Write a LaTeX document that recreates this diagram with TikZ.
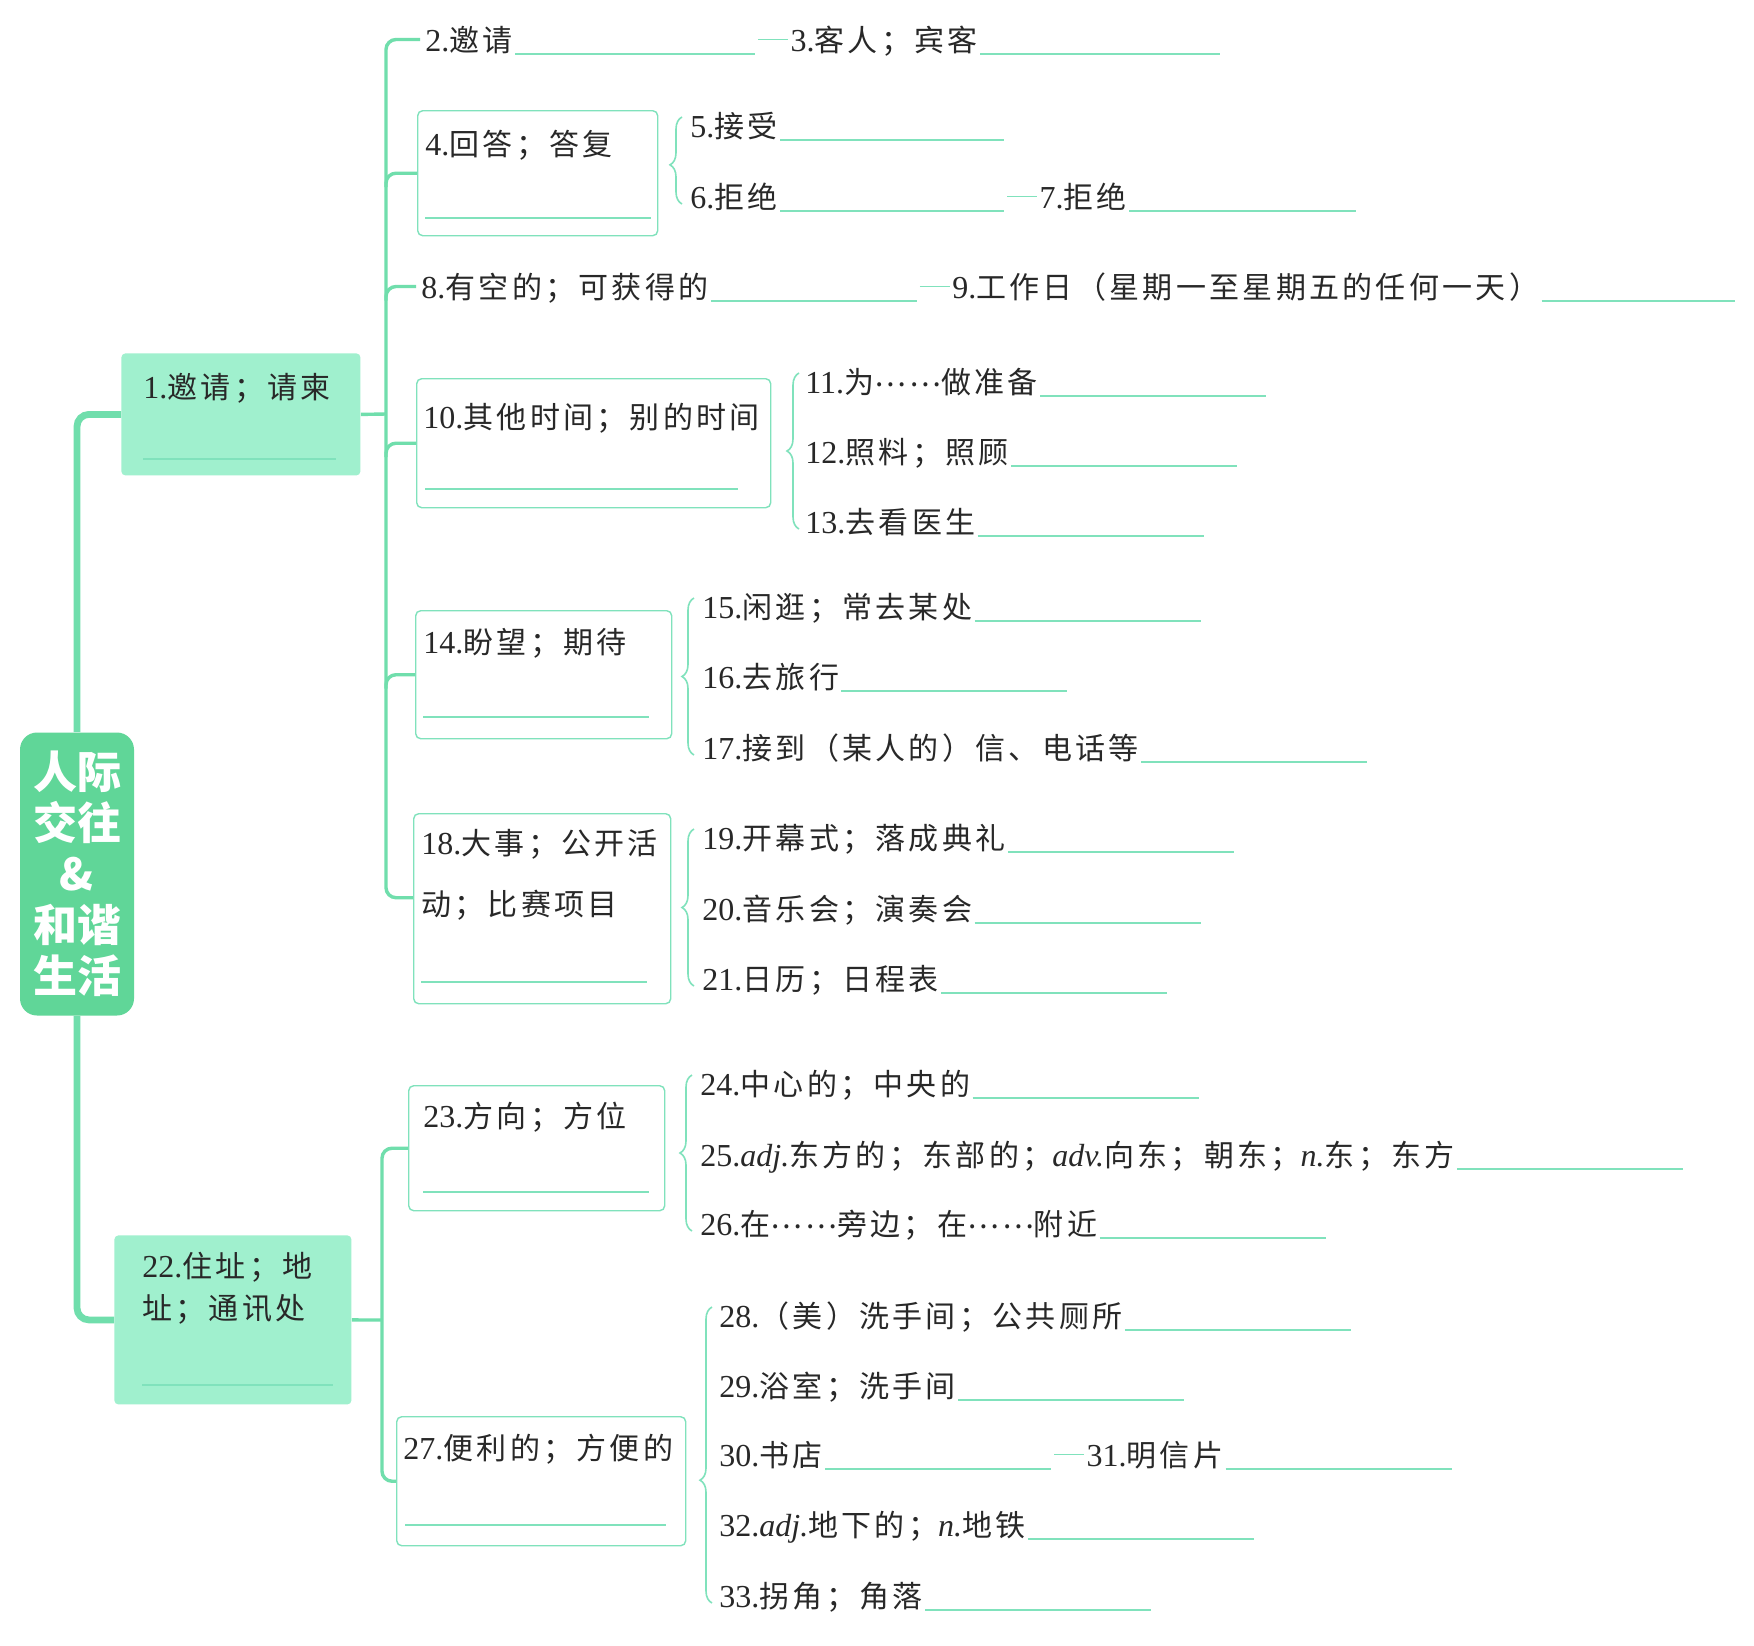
\documentclass[tikz,border=0pt]{standalone}
\usepackage{fontspec}
\setmainfont{Liberation Serif}
\newfontfamily\cjkfont[LetterSpace=11]{Noto Sans CJK SC}
\newfontfamily\titlefont{Noto Sans CJK SC}
\usetikzlibrary{calc,decorations.pathreplacing}
\definecolor{mainG}{RGB}{96,214,152}
\definecolor{lightG}{RGB}{160,240,206}
\definecolor{lineG}{RGB}{112,222,172}
\definecolor{boxG}{RGB}{128,226,188}
\definecolor{txt}{RGB}{40,40,40}
\newcommand\cj[1]{{\fontsize{15}{20}\selectfont\cjkfont #1}}
\newcommand\mdots{\raisebox{3.3pt}{⋯⋯}}
\begin{document}
\begin{tikzpicture}[x=0.5pt,y=-0.5pt,
  every node/.style={text=txt},
  leaf/.style={anchor=base west, inner sep=0pt, text height=12pt, text depth=0.5pt, font=\fontsize{16}{20}\selectfont},
  btext/.style={anchor=base west, inner sep=0pt, text height=12pt, text depth=0.5pt, font=\fontsize{16}{20}\selectfont},
  mtext/.style={anchor=north west, inner sep=0pt, align=left},
  boxnode/.style={draw=boxG, line width=0.7pt, rounded corners=2.5pt, anchor=north west, inner sep=0pt},
  topic/.style={fill=lightG, rounded corners=2pt, anchor=north west, inner sep=0pt},
  title/.style={fill=mainG, rounded corners=8.5pt, text=white, align=center, inner sep=0pt,
    font=\fontsize{22}{25.5}\selectfont\titlefont\bfseries},
  trunk/.style={draw=lineG, line width=3.4pt, rounded corners=6pt},
  bus/.style={draw=lineG, line width=1.7pt, rounded corners=5pt},
  ul/.style={draw=boxG, line width=0.9pt},
  dashc/.style={draw=boxG, line width=0.9pt, shorten <=1.5pt, shorten >=1pt},
  brc/.style={draw=boxG, line width=0.8pt, decorate, decoration={brace, amplitude=6pt, aspect=#1}},
  brc/.default=0.5,
]
\fill[white] (0,0) rectangle (1754,1645);
\useasboundingbox (0,0) rectangle (1754,1645);

% ---------- title ----------
\node[title, minimum width=57pt, minimum height=141.5pt] (main) at (77,874)
  {人际\\交往\\\&\\和谐\\生活};

% ---------- topic 1 ----------
\node[topic, minimum width=119.5pt, minimum height=61pt] (n1) at (121,353) {};
\node[btext] (n1t) at (143,398) {1.\cj{邀请；请柬}};
\draw[ul] (143,459) -- (336,459);

% ---------- topic 22 ----------
\node[topic, minimum width=118.5pt, minimum height=84.5pt] (n22) at (114,1235) {};
\node[mtext, font=\fontsize{16}{21}\selectfont] (n22t) at (142,1252) {22.\cj{住址；地}\\\cj{址；通讯处}};
\draw[ul] (142,1385) -- (333,1385);

% ---------- trunk ----------
\draw[trunk] (main.north) |- (n1.west);
\draw[trunk] (main.south) |- (n22.west);

% ---------- boxes group 1 ----------
\node[boxnode, minimum width=120pt, minimum height=62.5pt] (b4) at (417,110) {};
\node[btext] (b4t) at (425,155) {4.\cj{回答；答复}};
\draw[ul] (425,218) -- (651,218);

\node[boxnode, minimum width=177pt, minimum height=64.5pt] (b10) at (416,378) {};
\node[btext] (b10t) at (423,428) {10.\cj{其他时间；别的时间}};
\draw[ul] (425,489) -- (738,489);

\node[boxnode, minimum width=128pt, minimum height=64pt] (b14) at (415,610) {};
\node[btext] (b14t) at (423,653) {14.\cj{盼望；期待}};
\draw[ul] (423,717) -- (649,717);

\node[boxnode, minimum width=128.5pt, minimum height=95pt] (b18) at (413,813) {};
\node[mtext, font=\fontsize{16}{30.5}\selectfont] (b18t) at (421,829) {18.\cj{大事；公开活}\\\cj{动；比赛项目}};
\draw[ul] (421,982) -- (647,982);

% ---------- boxes group 2 ----------
\node[boxnode, minimum width=128pt, minimum height=62.5pt] (b23) at (408,1085) {};
\node[btext] (b23t) at (423,1127) {23.\cj{方向；方位}};
\draw[ul] (423,1192) -- (649,1192);

\node[boxnode, minimum width=144.5pt, minimum height=64.5pt] (b27) at (396,1416) {};
\node[btext] (b27t) at (403,1459) {27.\cj{便利的；方便的}};
\draw[ul] (405,1525) -- (666,1525);

% ---------- leaves group 1 ----------
\node[leaf] (t2) at (425,51) {2.\cj{邀请}};
\draw[ul] ($(t2.base east)+(2,3)$) -- ++(240,0) coordinate (u2);
\node[leaf] (t3) at ($(u2)+(35,-3)$) {3.\cj{客人；宾客}};
\draw[ul] ($(t3.base east)+(2,3)$) -- ++(240,0);
\draw[dashc] (u2 |- t2.east) -- (t3.west);

\node[leaf] (t5) at (690,137) {5.\cj{接受}};
\draw[ul] ($(t5.base east)+(2,3)$) -- ++(224,0);
\node[leaf] (t6) at (690,208) {6.\cj{拒绝}};
\draw[ul] ($(t6.base east)+(2,3)$) -- ++(224,0) coordinate (u6);
\node[leaf] (t7) at ($(u6)+(35,-3)$) {7.\cj{拒绝}};
\draw[ul] ($(t7.base east)+(2,3)$) -- ++(227,0);
\draw[dashc] (u6 |- t6.east) -- (t7.west);

\node[leaf] (t8) at (421,298) {8.\cj{有空的；可获得的}};
\draw[ul] ($(t8.base east)+(2,3)$) -- ++(206,0) coordinate (u8);
\node[leaf] (t9) at ($(u8)+(35,-3)$) {9.\cj{工作日（星期一至星期五的任何一天）}};
\draw[ul] ($(t9.base east)+(2,3)$) -- ++(193,0);
\draw[dashc] (u8 |- t8.east) -- (t9.west);

\node[leaf] (t11) at (805,393) {11.\cj{为\mdots 做准备}};
\draw[ul] ($(t11.base east)+(2,3)$) -- ++(226,0);
\node[leaf] (t12) at (805,463) {12.\cj{照料；照顾}};
\draw[ul] ($(t12.base east)+(2,3)$) -- ++(226,0);
\node[leaf] (t13) at (805,533) {13.\cj{去看医生}};
\draw[ul] ($(t13.base east)+(2,3)$) -- ++(226,0);

\node[leaf] (t15) at (702,618) {15.\cj{闲逛；常去某处}};
\draw[ul] ($(t15.base east)+(2,3)$) -- ++(226,0);
\node[leaf] (t16) at (702,688) {16.\cj{去旅行}};
\draw[ul] ($(t16.base east)+(2,3)$) -- ++(226,0);
\node[leaf] (t17) at (702,759) {17.\cj{接到（某人的）信、电话等}};
\draw[ul] ($(t17.base east)+(2,3)$) -- ++(226,0);

\node[leaf] (t19) at (702,849) {19.\cj{开幕式；落成典礼}};
\draw[ul] ($(t19.base east)+(2,3)$) -- ++(226,0);
\node[leaf] (t20) at (702,920) {20.\cj{音乐会；演奏会}};
\draw[ul] ($(t20.base east)+(2,3)$) -- ++(226,0);
\node[leaf] (t21) at (702,990) {21.\cj{日历；日程表}};
\draw[ul] ($(t21.base east)+(2,3)$) -- ++(226,0);

% ---------- leaves group 2 ----------
\node[leaf] (t24) at (700,1095) {24.\cj{中心的；中央的}};
\draw[ul] ($(t24.base east)+(2,3)$) -- ++(226,0);
\node[leaf] (t25) at (700,1166) {25.\textit{adj.}\cj{东方的；东部的；}\textit{adv.}\cj{向东；朝东；}\textit{n.}\cj{东；东方}};
\draw[ul] ($(t25.base east)+(2,3)$) -- ++(226,0);
\node[leaf] (t26) at (700,1235) {26.\cj{在\mdots 旁边；在\mdots 附近}};
\draw[ul] ($(t26.base east)+(2,3)$) -- ++(226,0);

\node[leaf] (t28) at (719,1327) {28.\cj{（美）洗手间；公共厕所}};
\draw[ul] ($(t28.base east)+(2,3)$) -- ++(226,0);
\node[leaf] (t29) at (719,1397) {29.\cj{浴室；洗手间}};
\draw[ul] ($(t29.base east)+(2,3)$) -- ++(226,0);
\node[leaf] (t30) at (719,1466) {30.\cj{书店}};
\draw[ul] ($(t30.base east)+(2,3)$) -- ++(226,0) coordinate (u30);
\node[leaf] (t31) at ($(u30)+(35,-3)$) {31.\cj{明信片}};
\draw[ul] ($(t31.base east)+(2,3)$) -- ++(226,0);
\draw[dashc] (u30 |- t30.east) -- (t31.west);
\node[leaf] (t32) at (719,1536) {32.\textit{adj.}\cj{地下的；}\textit{n.}\cj{地铁}};
\draw[ul] ($(t32.base east)+(2,3)$) -- ++(226,0);
\node[leaf] (t33) at (719,1607) {33.\cj{拐角；角落}};
\draw[ul] ($(t33.base east)+(2,3)$) -- ++(226,0);

% ---------- bus group 1 ----------
\coordinate (bus1) at (386,414);
\draw[bus] (n1.east) -- (bus1);
\draw[bus] ($(t2.west)+(-5,0)$) -| (bus1) |- ($(b18.west)+(0,-11)$);
\draw[bus] ($(b4.west -| bus1)+(0,14)$) |- (b4.west);
\draw[bus] ($(t8.west -| bus1)+(0,14)$) |- ($(t8.west)+(-5,0)$);
\draw[bus] ($(b10.west -| bus1)+(0,14)$) |- (b10.west);
\draw[bus] ($(b14.west -| bus1)+(0,14)$) |- (b14.west);

% ---------- bus group 2 ----------
\coordinate (bus2) at (382,1320);
\draw[bus] (n22.east) -- (bus2);
\draw[bus] (b23.west) -| (bus2) |- (b27.west);

% ---------- braces ----------
\draw[brc=0.45] (682,204) -- (682,117);
\draw[brc] (799,529) -- (799,373);
\draw[brc] (694,755) -- (694,598);
\draw[brc] (694,986) -- (694,829);
\draw[brc] (692,1231) -- (692,1075);
\draw[brc=0.415] (712,1603) -- (712,1307);
\end{tikzpicture}
\end{document}
